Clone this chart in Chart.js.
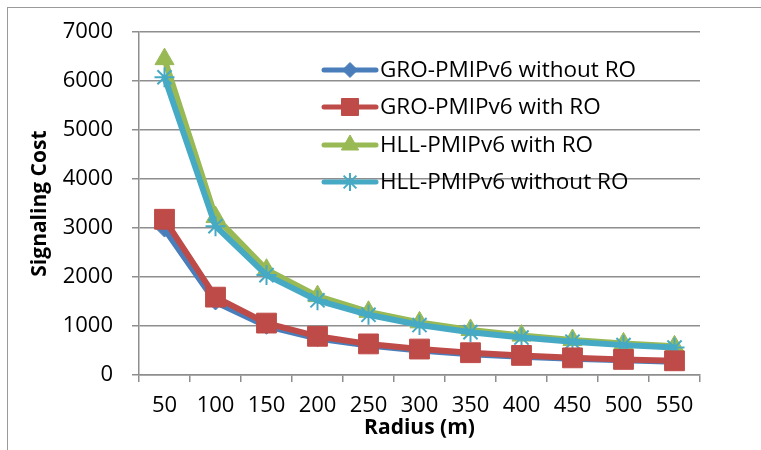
<!DOCTYPE html>
<html>
<head>
<meta charset="utf-8">
<script src="https://cdn.jsdelivr.net/npm/chart.js@4/dist/chart.umd.min.js"></script>
<style>
  html, body { margin: 0; padding: 0; background: #fff; }
  .wrap { position: relative; width: 761px; height: 450px; }
  .frame { position: absolute; left: 7px; top: 7px; right: 0; bottom: 0; border-left: 1px solid #9a9a9a; border-top: 1px solid #9a9a9a; pointer-events: none; }
  canvas { position: absolute; left: 0; top: 0; }
</style>
</head>
<body>
<div class="wrap">
  <canvas id="chart" width="761" height="450"></canvas>
  <div class="frame"></div>
</div>
<script>
const radius = ['50', '100', '150', '200', '250', '300', '350', '400', '450', '500', '550'];
const groWithoutRo = [2980, 1490, 995, 745, 600, 500, 425, 375, 330, 300, 270];
const groWithRo = [3180, 1590, 1060, 790, 635, 530, 455, 400, 350, 318, 290];
const hllWithRo = [6450, 3225, 2150, 1610, 1290, 1075, 920, 805, 715, 645, 585];
const hllWithoutRo = [6080, 3040, 2040, 1525, 1230, 1020, 875, 765, 680, 610, 560];
const yTicks = [0, 1000, 2000, 3000, 4000, 5000, 6000, 7000];

const font = '"Open Sans", "Liberation Sans", sans-serif';
const gridColor = '#8e8e8e';

function series(label, data, color, pointStyle, pointRadius, order) {
  return {
    label, data, order,
    borderColor: color, backgroundColor: color,
    borderWidth: 6, pointStyle, pointRadius,
    pointBorderColor: color, pointBackgroundColor: color,
    pointBorderWidth: pointStyle === 'star' ? 2 : 1,
    tension: 0, fill: false
  };
}

const datasets = [
  series('GRO-PMIPv6 without RO', groWithoutRo, '#4a7ebb', 'rectRot', 8, 3),
  series('GRO-PMIPv6 with RO', groWithRo, '#be4b48', 'rect', 14, 1),
  series('HLL-PMIPv6 with RO', hllWithRo, '#98b954', 'triangle', 11, 4),
  series('HLL-PMIPv6 without RO', hllWithoutRo, '#46aac5', 'star', 10, 2)
];

// legend sits inside the plot, top right, like the Excel original
const insideLegend = {
  id: 'insideLegend',
  afterDraw(chart) {
    const ctx = chart.ctx;
    const rowY = [70, 107, 145, 182];
    const markerSize = { rectRot: 7.5, rect: 12, triangle: 10, star: 9 };
    ctx.save();
    chart.data.datasets.forEach((ds, i) => {
      const y = rowY[i];
      ctx.strokeStyle = ds.borderColor;
      ctx.lineWidth = 5;
      ctx.lineCap = 'round';
      ctx.beginPath();
      ctx.moveTo(324, y);
      ctx.lineTo(376, y);
      ctx.stroke();
      ctx.lineCap = 'butt';
      ctx.fillStyle = ds.backgroundColor;
      ctx.lineWidth = ds.pointBorderWidth;
      Chart.helpers.drawPoint(ctx, {
        pointStyle: ds.pointStyle,
        radius: markerSize[ds.pointStyle],
        rotation: 0,
        borderWidth: ds.pointBorderWidth
      }, 350, y);
      ctx.fillStyle = '#000';
      ctx.font = '22.5px ' + font;
      ctx.textBaseline = 'middle';
      ctx.textAlign = 'left';
      ctx.fillText(ds.label, 380, y + 1);
    });
    ctx.restore();
  }
};

new Chart(document.getElementById('chart'), {
  type: 'line',
  data: { labels: radius, datasets },
  plugins: [insideLegend],
  options: {
    responsive: false,
    animation: false,
    layout: { padding: { left: 0, top: 30, right: 61, bottom: 0 } },
    plugins: { legend: { display: false }, tooltip: { enabled: false } },
    scales: {
      x: {
        offset: true,
        grid: { offset: true, drawOnChartArea: false, drawTicks: true, tickLength: 7, color: gridColor, lineWidth: 1.5 },
        border: { color: gridColor, width: 1.5 },
        ticks: { color: '#000', font: { family: font, size: 22 }, padding: 11, maxRotation: 0, autoSkip: false },
        title: { display: true, text: 'Radius (m)', color: '#000', font: { family: font, size: 21, weight: 'bold' }, padding: { top: 0, bottom: 9 } },
        afterFit(scale) { scale.height = 75; }
      },
      y: {
        min: 0, max: 7000,
        afterBuildTicks(scale) { scale.ticks = yTicks.map((v) => ({ value: v })); },
        grid: { color: gridColor, lineWidth: 1.5, tickLength: 7 },
        border: { color: gridColor, width: 1.5 },
        ticks: { color: '#000', font: { family: font, size: 22 }, padding: 19, callback: (value) => String(value) },
        title: { display: true, text: 'Signaling Cost', color: '#000', font: { family: font, size: 21, weight: 'bold' }, padding: { top: 27, bottom: 0 } },
        afterFit(scale) { scale.width = 139; }
      }
    }
  }
});
</script>
</body>
</html>
